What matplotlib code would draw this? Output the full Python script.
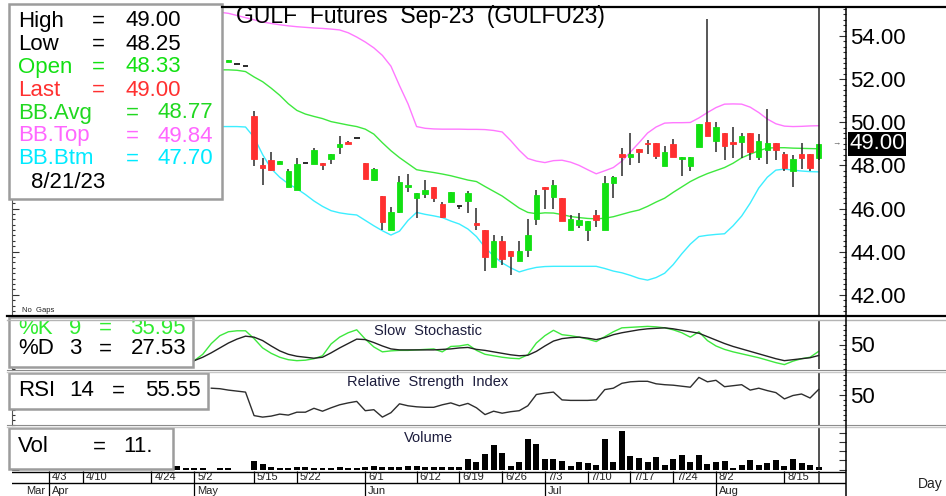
import numpy as np
import matplotlib.pyplot as plt
import matplotlib.transforms as mtransforms
from matplotlib.patches import Rectangle
from matplotlib.lines import Line2D
from matplotlib.ticker import MultipleLocator, FixedLocator, NullFormatter

plt.rcParams['font.family'] = ['Liberation Sans', 'DejaVu Sans']

nan = np.nan

# one slot per session, slot 75 = 8/21/23 (slots 0-5 sit behind the quote box)
opens = [
    nan, nan, nan, nan, nan, nan, 52.80, 52.70, 52.63, 50.31,
    48.03, 48.26, 48.06, 47.02, 46.84, 48.11, 48.06, 48.11, 48.29, 48.85,
    49.08, 49.26, 48.11, 47.33, 46.56, 45.02, 45.82, 46.99, 46.49, 46.69,
    47.02, 46.22, 46.30, 46.10, 46.33, 45.33, 45.02, 43.29, 44.51, 44.01,
    43.58, 44.09, 45.51, 47.02, 46.53, 46.51, 44.99, 45.22, 45.02, 45.71,
    44.99, 47.18, 48.52, 48.37, 48.77, 49.03, 49.03, 47.99, 48.97, 48.29,
    47.99, 48.85, 50.00, 49.14, 49.52, 49.08, 49.08, 49.52, 48.41, 48.72,
    49.03, 48.54, 47.75, 48.54, 48.54, 48.33,
]
highs = [
    nan, nan, nan, nan, nan, nan, 52.88, 52.70, 52.63, 50.53,
    48.34, 48.62, 48.21, 47.83, 48.34, 48.11, 48.80, 48.11, 48.52, 49.37,
    49.14, 49.26, 48.11, 47.90, 46.56, 46.07, 47.52, 47.61, 46.72, 47.33,
    47.02, 46.28, 46.78, 46.10, 46.79, 46.02, 45.02, 44.75, 44.74, 44.01,
    44.51, 45.51, 46.87, 47.02, 47.33, 46.51, 45.71, 45.79, 45.40, 45.94,
    47.52, 47.52, 48.80, 49.52, 48.77, 49.19, 49.03, 48.91, 49.22, 48.37,
    48.37, 49.93, 54.77, 50.00, 49.52, 49.77, 49.52, 49.52, 49.46, 50.62,
    49.03, 48.64, 48.46, 49.03, 48.54, 49.00,
]
lows = [
    nan, nan, nan, nan, nan, nan, 52.80, 52.70, 52.63, 47.98,
    47.10, 47.72, 48.06, 47.02, 46.84, 48.11, 48.06, 47.80, 48.07, 48.54,
    48.99, 49.26, 47.37, 47.29, 45.02, 45.02, 45.79, 46.75, 45.56, 46.49,
    46.30, 45.56, 46.30, 45.99, 45.79, 44.99, 43.09, 43.29, 43.40, 42.90,
    43.58, 43.74, 45.22, 45.99, 45.99, 45.40, 44.99, 45.10, 44.48, 45.14,
    44.99, 46.49, 47.52, 48.03, 48.13, 48.54, 48.29, 47.99, 48.41, 47.49,
    47.75, 48.83, 49.38, 48.60, 48.26, 48.34, 48.34, 48.23, 48.23, 48.07,
    48.26, 47.76, 46.99, 47.83, 47.76, 48.25,
]
closes = [
    nan, nan, nan, nan, nan, nan, 52.88, 52.70, 52.63, 48.29,
    47.90, 47.80, 48.21, 47.72, 48.06, 48.11, 48.72, 48.00, 48.52, 49.01,
    48.99, 49.26, 47.37, 47.84, 45.36, 45.84, 47.25, 47.07, 46.72, 46.87,
    46.49, 45.63, 46.78, 46.10, 46.72, 45.25, 43.74, 44.51, 43.66, 43.78,
    44.01, 44.75, 46.61, 46.90, 47.10, 45.40, 45.53, 45.45, 45.40, 45.48,
    47.18, 47.44, 48.37, 48.54, 48.60, 48.97, 48.44, 48.61, 48.41, 48.37,
    48.37, 49.93, 49.38, 49.77, 48.92, 48.99, 49.37, 48.60, 49.14, 49.03,
    48.72, 47.90, 48.31, 48.34, 47.90, 49.00,
]
bb_avg = [
    nan, nan, nan, nan, nan, 52.43, 52.43, 52.41, 52.35, 52.10,
    51.88, 51.58, 51.25, 50.86, 50.55, 50.38, 50.27, 50.17, 50.03, 49.95,
    49.87, 49.80, 49.68, 49.45, 49.05, 48.68, 48.36, 48.08, 47.80, 47.73,
    47.67, 47.60, 47.52, 47.42, 47.32, 47.25, 47.02, 46.80, 46.58, 46.30,
    46.02, 45.82, 45.76, 45.80, 45.79, 45.72, 45.63, 45.58, 45.54, 45.52,
    45.55, 45.62, 45.73, 45.84, 45.93, 46.10, 46.30, 46.48, 46.75, 47.00,
    47.25, 47.45, 47.62, 47.76, 47.90, 48.10, 48.35, 48.52, 48.68, 48.80,
    48.82, 48.82, 48.80, 48.79, 48.78, 48.77,
]
bb_top = [
    nan, nan, nan, nan, nan, 55.10, 55.05, 54.95, 54.85, 54.75,
    54.65, 54.58, 54.52, 54.47, 54.43, 54.40, 54.37, 54.35, 54.32, 54.28,
    54.15, 53.95, 53.72, 53.45, 53.10, 52.60, 51.70, 50.85, 49.80, 49.72,
    49.69, 49.68, 49.68, 49.68, 49.67, 49.67, 49.66, 49.62, 49.55, 49.15,
    48.70, 48.32, 48.20, 48.13, 48.22, 48.24, 48.15, 48.00, 47.80, 47.61,
    47.75, 47.90, 48.20, 48.62, 49.05, 49.50, 49.78, 49.96, 49.98, 49.98,
    49.99, 50.20, 50.45, 50.68, 50.84, 50.85, 50.84, 50.70, 50.45, 50.15,
    49.93, 49.82, 49.80, 49.81, 49.83, 49.84,
]
bb_btm = [
    nan, nan, nan, nan, nan, 49.80, 49.80, 49.80, 49.78, 49.30,
    48.50, 47.85, 47.45, 47.15, 46.92, 46.65, 46.35, 46.10, 45.90, 45.80,
    45.74, 45.70, 45.45, 45.20, 44.97, 44.77, 44.95, 45.45, 45.82, 45.73,
    45.66, 45.58, 45.42, 45.28, 45.05, 44.70, 44.20, 43.80, 43.48, 43.25,
    43.06, 43.18, 43.27, 43.31, 43.32, 43.32, 43.32, 43.32, 43.32, 43.32,
    43.22, 43.10, 43.02, 42.90, 42.76, 42.68, 42.80, 43.00, 43.40, 43.90,
    44.35, 44.70, 44.76, 44.80, 44.83, 45.20, 45.65, 46.25, 46.95, 47.45,
    47.78, 47.83, 47.78, 47.74, 47.71, 47.70,
]
stoch_k = [
    nan, nan, 17, 30, 52, 68, 76, 78, 78, 62,
    43, 32, 24, 19, 17, 18, 21, 27, 51, 65,
    74, 80, 61, 45, 35, 37, 38, 38, 39, 40,
    41, 35, 46, 47, 50, 38, 30, 27, 24, 22,
    21, 29, 53, 68, 79, 70, 68, 65, 61, 56,
    66, 76, 84, 85, 86, 87, 86, 84, 80, 74,
    65, 76, 58, 47, 40, 35, 31, 27, 23, 18,
    13, 9, 16, 21, 24, 35.95,
]
stoch_d = [
    nan, nan, 17, 24, 33, 43, 53, 61, 67, 65,
    58, 47, 37, 30, 26, 24, 22, 24, 33, 43,
    52, 61, 60, 54, 47, 41, 39, 39, 39, 39,
    39, 40, 41, 43, 44, 40, 38, 35, 32, 29,
    27, 28, 36, 47, 57, 62, 64, 65, 63, 60,
    64, 70, 74, 77, 80, 82, 83, 84, 82, 79,
    76, 73, 66, 59, 52, 46, 41, 36, 31, 26,
    21, 17, 19, 21, 23, 27.53,
]
rsi = [
    nan, nan, nan, nan, 56.8, 56.3, 54.9, 53.9, 52.9, 29.4,
    27.9, 28.9, 30.9, 29.9, 32.8, 32.8, 36.7, 33.8, 37.2, 40.2,
    42.1, 43.6, 34.3, 35.3, 27.9, 32.3, 41.2, 39.2, 38.2, 37.7,
    37.7, 40.2, 42.1, 39.2, 41.6, 37.2, 30.4, 33.8, 31.8, 33.3,
    34.3, 39.2, 50.5, 51.9, 52.9, 45.1, 44.6, 44.6, 44.6, 45.1,
    55.4, 56.8, 61.7, 63.2, 63.7, 63.7, 61.2, 60.3, 59.8, 58.8,
    57.8, 67.6, 63.2, 64.7, 58.3, 59.3, 60.3, 54.9, 56.8, 54.4,
    52.4, 46.1, 49.5, 51.0, 47.0, 55.55,
]
volume = [
    17, 8, 8, 8, 0, 7, 7, 0, 0, 43,
    27, 10, 8, 8, 13, 10, 8, 8, 8, 13,
    8, 8, 10, 18, 13, 10, 10, 16, 16, 13,
    10, 10, 10, 10, 50, 37, 75, 122, 80, 17,
    37, 150, 128, 53, 53, 42, 17, 37, 30, 22,
    150, 37, 192, 65, 58, 37, 63, 22, 53, 70,
    37, 70, 27, 37, 42, 8, 22, 47, 22, 30,
    47, 17, 53, 30, 22, 11,
]
date_ticks = [-15, -11, -3, 2, 9, 14, 22, 28, 33, 38, 43, 48, 53, 58, 63, 71]
date_labels = ['4/3', '4/10', '4/24', '5/2', '5/15', '5/22', '6/1', '6/12',
               '6/19', '6/26', '7/3', '7/10', '7/17', '7/24', '8/2', '8/15']
month_ticks = [-15, 2, 22, 43, 63]
month_pos = [-18, -15, 2, 22, 43, 63]
month_labels = ['Mar', 'Apr', 'May', 'Jun', 'Jul', 'Aug']
price_ticks = [42, 44, 46, 48, 50, 52, 54]

GREEN = '#12e012'
RED = '#ff3030'
BB_G = '#3ee83e'
BB_P = '#ff78ff'
BB_C = '#3ceeff'
FS = 16

x = np.arange(len(closes))
o, h, l, c = (np.array(v, dtype=float) for v in (opens, highs, lows, closes))

W, H = 946, 496
fig = plt.figure(figsize=(W / 100, H / 100), dpi=100)
pix = mtransforms.Affine2D().scale(1 / W, -1 / H).translate(0, 1) + fig.transFigure


def rect(x0, y0, x1, y1):
    return [x0 / W, 1 - y1 / H, (x1 - x0) / W, (y1 - y0) / H]


ax_p = fig.add_axes(rect(12, 6, 846, 315.5))
ax_s = fig.add_axes(rect(12, 320, 846, 369), sharex=ax_p)
ax_r = fig.add_axes(rect(12, 372, 846, 425), sharex=ax_p)
ax_v = fig.add_axes(rect(12, 427, 846, 469.5), sharex=ax_p)
ax_d = fig.add_axes(rect(12, 471, 846, 496), sharex=ax_p)
ax_p.set_xlim(-19.3, 78.2)

for ax in (ax_p, ax_s, ax_r, ax_v, ax_d):
    for s in ax.spines.values():
        s.set_visible(False)
    ax.tick_params(axis='x', bottom=False, labelbottom=False)
for ax in (ax_p, ax_s, ax_r, ax_v):
    ax.spines['left'].set_visible(True)
    ax.spines['left'].set_color('#555555')
    ax.tick_params(axis='y', which='both', direction='in', left=True, right=True,
                   labelleft=False, labelright=True, color='#333333', width=0.8,
                   labelsize=FS, pad=3)
    ax.tick_params(axis='y', which='major', length=5)
    ax.tick_params(axis='y', which='minor', length=2.5)

# ---- price panel
ax_p.set_ylim(41.04, 55.39)
ax_p.yaxis.set_major_locator(FixedLocator(price_ticks))
ax_p.yaxis.set_minor_locator(MultipleLocator(0.25))
ax_p.yaxis.set_major_formatter(lambda v, pos: f'{v:.2f}')

ax_p.plot(x, bb_top, color=BB_P, lw=1.0, zorder=2)
ax_p.plot(x, bb_avg, color=BB_G, lw=1.0, zorder=2)
ax_p.plot(x, bb_btm, color=BB_C, lw=1.0, zorder=2)

up, dn, flat = c > o, c < o, c == o
ax_p.vlines(x, l, h, color='#2a2a2a', lw=1.1, zorder=3)
ax_p.bar(x[up], (c - o)[up], bottom=o[up], width=0.64, color=GREEN,
         edgecolor=GREEN, lw=0.6, zorder=4)
ax_p.bar(x[dn], (o - c)[dn], bottom=c[dn], width=0.64, color=RED,
         edgecolor=RED, lw=0.6, zorder=4)
ax_p.hlines(c[flat], x[flat] - 0.33, x[flat] + 0.33, color='#1a1a1a', lw=1.3, zorder=4)

blend = mtransforms.blended_transform_factory(ax_p.transAxes, ax_p.transData)
ax_p.text(1.0, c[-1], f'{c[-1]:.2f}', ha='left', va='center', color='white', fontsize=FS,
          transform=mtransforms.offset_copy(blend, fig=fig, x=3, y=0, units='dots'),
          bbox=dict(boxstyle='square,pad=0.06', fc='black', ec='none'), clip_on=False, zorder=12)
ax_p.text(1.0, c[-1], '→', ha='right', va='center', color='#555555', fontsize=6,
          transform=mtransforms.offset_copy(blend, fig=fig, x=-5, y=0, units='dots'),
          clip_on=False)

ax_p.text(236, 17, 'GULF  Futures  Sep-23  (GULFU23)', transform=pix, fontsize=16.5,
          ha='left', va='center', color='black', zorder=5)
ax_p.text(22, 311, 'No  Gaps', transform=pix, fontsize=5.5, ha='left', va='center',
          color='#222222', clip_on=False)

# ---- stochastic
ax_s.set_ylim(0, 100)
ax_s.yaxis.set_major_locator(FixedLocator([50]))
ax_s.yaxis.set_minor_locator(MultipleLocator(10))
ax_s.plot(x, stoch_k, color='#3ee83e', lw=1.0, zorder=3)
ax_s.plot(x, stoch_d, color='#222222', lw=1.0, zorder=3)
ax_s.text(428, 331, 'Slow  Stochastic', transform=pix, fontsize=10.5, ha='center',
          va='center', color='#1c1c3c', zorder=1)

# ---- RSI
ax_r.set_ylim(20, 73)
ax_r.yaxis.set_major_locator(FixedLocator([50]))
ax_r.yaxis.set_minor_locator(MultipleLocator(5))
ax_r.plot(x, rsi, color='#2e2e2e', lw=1.0, zorder=3)
ax_r.text(428, 382, 'Relative  Strength  Index', transform=pix, fontsize=10.5, ha='center',
          va='center', color='#1c1c3c', zorder=1)

# ---- volume
ax_v.set_ylim(0, 212)
ax_v.yaxis.set_major_locator(MultipleLocator(45))
ax_v.yaxis.set_minor_locator(MultipleLocator(45))
ax_v.yaxis.set_major_formatter(NullFormatter())
ax_v.bar(x, volume, width=0.7, color='black', zorder=3)
ax_v.text(428, 438, 'Volume', transform=pix, fontsize=10.5, ha='center', va='center',
          color='#1c1c3c', zorder=1)

for ax in (ax_p, ax_s, ax_r, ax_v):
    ax.axvline(x[-1], color='#222222', lw=1.1, zorder=6)

# ---- date strip
ax_d.set_ylim(0, 1)
ax_d.set_yticks([])
ax_d.axhline(0.97, color='black', lw=1.0)
ax_d.axhline(0.508, color='black', lw=1.0)
ax_d.vlines(date_ticks, 0.508, 1, color='black', lw=0.9)
ax_d.vlines(month_ticks, 0, 0.508, color='black', lw=0.9)
ax_d.vlines(x[-1], 0.508, 1, color='#222222', lw=1.1)
dshift = mtransforms.offset_copy(ax_d.transData, fig=fig, x=3, y=0, units='dots')
for t, s in zip(date_ticks, date_labels):
    ax_d.text(t, 0.74, s, transform=dshift, fontsize=8, ha='left', va='center',
              color='#222222', clip_on=False)
for t, s in zip(month_pos, month_labels):
    ax_d.text(t, 0.22, s, transform=dshift, fontsize=8, ha='left', va='center',
              color='#222222', clip_on=False)


# ---- quote boxes
def quote_box(ax, x0, y0, x1, y1):
    ax.add_patch(Rectangle((x0, y0), x1 - x0, y1 - y0, transform=pix, facecolor='white',
                           edgecolor='#9c9c9c', lw=1.8, zorder=10, clip_on=False))


def quote_text(ax, px, py, s, color='black', ha='left', clip=False):
    ax.text(px, py, s, transform=pix, ha=ha, va='center', color=color, fontsize=FS,
            zorder=11, clip_on=clip)


legend_labels = ['High', 'Low', 'Open', 'Last', 'BB.Avg', 'BB.Top', 'BB.Btm']
legend_values = [h[-1], l[-1], o[-1], c[-1], bb_avg[-1], bb_top[-1], bb_btm[-1]]
legend_colors = ['black', 'black', GREEN, RED, '#20d820', '#ff66ff', '#00eaff']

quote_box(ax_p, 9, 4, 222, 199)
for i, (lab, val, col) in enumerate(zip(legend_labels, legend_values, legend_colors)):
    yy = 21 + 23 * i
    eq_x, v_x = (98, 181) if i < 4 else (132, 213)
    quote_text(ax_p, 18, yy, lab, col)
    quote_text(ax_p, eq_x, yy, '=', col, ha='center')
    quote_text(ax_p, v_x, yy, f'{val:.2f}', col, ha='right')
quote_text(ax_p, 31, 182, '8/21/23')

quote_box(ax_s, 9, 317, 193, 367)
for yy, lab, n, val, col in [(328, '%K', '9', stoch_k[-1], '#30ec30'),
                             (349, '%D', '3', stoch_d[-1], 'black')]:
    quote_text(ax_s, 18, yy, lab, col, clip=True)
    quote_text(ax_s, 75, yy, n, col, ha='center', clip=True)
    quote_text(ax_s, 105, yy, '=', col, ha='center', clip=True)
    quote_text(ax_s, 186, yy, f'{val:.2f}', col, ha='right', clip=True)

quote_box(ax_r, 9, 373, 208, 409)
quote_text(ax_r, 18, 391, 'RSI')
quote_text(ax_r, 82, 391, '14', ha='center')
quote_text(ax_r, 118, 391, '=', ha='center')
quote_text(ax_r, 201, 391, f'{rsi[-1]:.2f}', ha='right')

quote_box(ax_v, 9, 428, 173, 469)
quote_text(ax_v, 18, 447, 'Vol')
quote_text(ax_v, 99, 447, '=', ha='center')
quote_text(ax_v, 153, 447, f'{volume[-1]}.', ha='right')


# ---- frame lines
def fline(xs, ys, color='black', lw=1.0):
    fig.add_artist(Line2D(xs, ys, transform=pix, color=color, lw=lw, zorder=20))


fline([222, 946], [7, 7], lw=1.6)
fline([7, 946], [316, 316], lw=1.6)
fline([7, 946], [319.5, 319.5], color='#b4b4b4', lw=1.0)
fline([7, 946], [369.8, 369.8], color='#8c8c8c', lw=0.8)
fline([7, 946], [371.8, 371.8], color='#c8c8c8', lw=1.0)
fline([7, 946], [425.3, 425.3], color='#8c8c8c', lw=0.8)
fline([7, 946], [427.3, 427.3], color='#c8c8c8', lw=1.0)
fline([846, 846], [7, 496], lw=1.1)
fig.text(918, 484, 'Day', transform=pix, fontsize=10, ha='left', va='center', color='#222222')

fig.savefig('out.png', dpi=100)
